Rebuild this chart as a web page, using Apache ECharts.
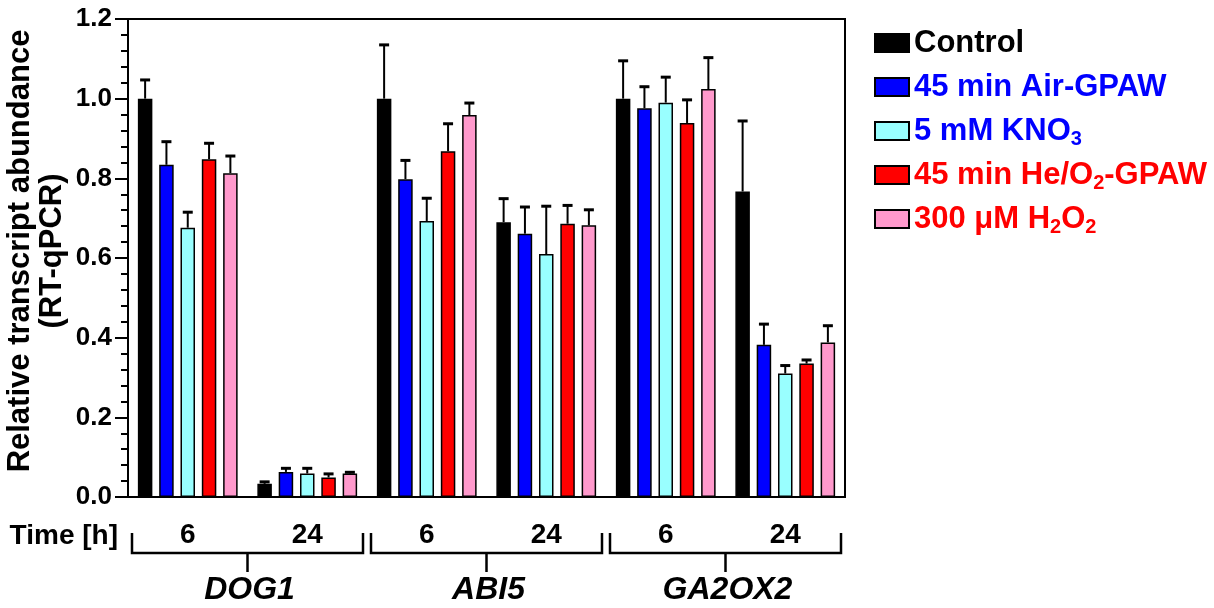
<!DOCTYPE html>
<html>
<head>
<meta charset="utf-8">
<script src="https://cdn.jsdelivr.net/npm/echarts@6/dist/echarts.min.js"></script>
<style>
html, body { margin: 0; padding: 0; background: #fff; }
#main { width: 1214px; height: 608px; }
</style>
</head>
<body>
<div id="main"></div>
<script>
// data
var genes = ['DOG1', 'ABI5', 'GA2OX2'];
var times = ['6', '24', '6', '24', '6', '24'];
var seriesNames = ['Control', '45 min Air-GPAW', '5 mM KNO3', '45 min He/O2-GPAW', '300 μM H2O2'];
var legendLabels = ['Control', '45 min Air-GPAW', '5 mM KNO{sub|3}', '45 min He/O{sub|2}-GPAW', '300 μM H{sub|2}O{sub|2}'];

var control = [1.0, 0.033, 1.0, 0.690, 1.0, 0.767];
var airGpaw = [0.834, 0.063, 0.798, 0.661, 0.976, 0.382];
var kno3 = [0.676, 0.059, 0.693, 0.610, 0.990, 0.310];
var heGpaw = [0.848, 0.049, 0.868, 0.686, 0.939, 0.335];
var h2o2 = [0.813, 0.059, 0.959, 0.682, 1.024, 0.388];

// upper error bars
var controlErr = [0.047, 0.005, 0.135, 0.059, 0.095, 0.177];
var airGpawErr = [0.058, 0.009, 0.047, 0.067, 0.054, 0.052];
var kno3Err = [0.039, 0.013, 0.057, 0.120, 0.064, 0.020];
var heGpawErr = [0.040, 0.009, 0.069, 0.046, 0.058, 0.009];
var h2o2Err = [0.043, 0.003, 0.030, 0.039, 0.079, 0.042];

var values = [control, airGpaw, kno3, heGpaw, h2o2];
var errors = [controlErr, airGpawErr, kno3Err, heGpawErr, h2o2Err];
var colors = ['#000000', '#0000ff', '#99ffff', '#ff0000', '#ff99cc'];
var textColors = ['#000000', '#0000ff', '#0000ff', '#ff0000', '#ff0000'];

var FONT = '"Liberation Sans", Arial, sans-serif';
var barWidth = 14.5;
var barGapRatio = 0.47;
var barStep = barWidth * (1 + barGapRatio);

var chart = echarts.init(document.getElementById('main'));

//误差线
function errorItem(k) {
	return function(params, api) {
		var idx = api.value(0);
		var base = api.coord([idx, api.value(1)]);
		var top = api.coord([idx, api.value(1) + api.value(2)]);
		var x = base[0] + (k - 2) * barStep;
		return {
			type: 'group',
			children: [{
					type: 'line',
					shape: { x1: x, y1: base[1], x2: x, y2: top[1] },
					style: { stroke: '#000', lineWidth: 2 }
				},
				{
					type: 'line',
					shape: { x1: x - 5, y1: top[1], x2: x + 5, y2: top[1] },
					style: { stroke: '#000', lineWidth: 3 }
				}
			]
		};
	};
}

var series = [];
seriesNames.forEach(function(name, k) {
	series.push({
		name: name,
		type: 'bar',
		barWidth: barWidth,
		barGap: (barGapRatio * 100) + '%',
		itemStyle: {
			color: colors[k],
			borderColor: '#000',
			borderWidth: 1.5
		},
		data: values[k]
	});
});
seriesNames.forEach(function(name, k) {
	series.push({
		name: 'err' + k,
		type: 'custom',
		z: 3,
		renderItem: errorItem(k),
		encode: { x: 0, y: 1 },
		data: values[k].map(function(v, i) {
			return [i, v, errors[k][i]];
		})
	});
});

chart.setOption({
	animation: false,
	grid: {
		left: 128,
		right: 369,
		top: 19,
		bottom: 111,
		outerBoundsMode: 'none',
		containLabel: false,
		show: true,
		borderColor: '#000',
		borderWidth: 2
	},
	legend: {
		orient: 'vertical',
		left: 869,
		top: 20,
		icon: 'rect',
		itemWidth: 34,
		itemHeight: 18,
		itemGap: 8,
		data: seriesNames.map(function(n, i) {
			return { name: n, textStyle: { color: textColors[i] } };
		}),
		formatter: function(name) {
			return legendLabels[seriesNames.indexOf(name)];
		},
		textStyle: {
			fontFamily: FONT,
			fontSize: 31,
			fontWeight: 'bold',
			lineHeight: 36,
			rich: {
				sub: {
					fontFamily: FONT,
					fontSize: 20,
					fontWeight: 'bold',
					lineHeight: 16,
					verticalAlign: 'bottom'
				}
			}
		}
	},
	xAxis: {
		type: 'category',
		data: times,
		axisLine: { lineStyle: { color: '#000', width: 2 } },
		axisTick: { alignWithLabel: true, length: 14, lineStyle: { color: '#000', width: 2 } },
		axisLabel: {
			fontFamily: FONT,
			fontSize: 28,
			fontWeight: 'bold',
			color: '#000',
			margin: 24
		}
	},
	yAxis: {
		type: 'value',
		min: 0,
		max: 1.2,
		interval: 0.2,
		name: 'Relative transcript abundance\n(RT-qPCR)',
		nameLocation: 'middle',
		nameMoveOverlap: false,
		nameGap: 60,
		nameTextStyle: {
			fontFamily: FONT,
			fontSize: 31,
			fontWeight: 'bold',
			lineHeight: 32,
			color: '#000',
			padding: [0, 0, 0, 14]
		},
		axisLine: { show: true, lineStyle: { color: '#000', width: 2 } },
		axisTick: { show: true, length: 13, lineStyle: { color: '#000', width: 2 } },
		minorTick: { show: true, splitNumber: 5, length: 7, lineStyle: { color: '#000', width: 2 } },
		splitLine: { show: false },
		axisLabel: {
			fontFamily: FONT,
			fontSize: 26,
			fontWeight: 'bold',
			color: '#000',
			margin: 16,
			formatter: function(v) {
				return v.toFixed(1);
			}
		}
	},
	series: series
});

//基因分组括号
function drawBrackets() {
	var els = [];
	genes.forEach(function(g, k) {
		var x0 = chart.convertToPixel({ xAxisIndex: 0 }, 2 * k);
		var x1 = chart.convertToPixel({ xAxisIndex: 0 }, 2 * k + 1);
		var half = (x1 - x0) / 2;
		var left = x0 - half + 4;
		var right = x1 + half - 4;
		var mid = (x0 + x1) / 2;
		els.push({
			type: 'polyline',
			shape: { points: [[left, 533], [left, 553], [right, 553], [right, 533]] },
			style: { stroke: '#000', lineWidth: 2.5, fill: null }
		});
		els.push({
			type: 'line',
			shape: { x1: mid, y1: 553, x2: mid, y2: 572 },
			style: { stroke: '#000', lineWidth: 2.5 }
		});
		els.push({
			type: 'text',
			x: mid + 2,
			y: 590,
			style: {
				text: g,
				fontFamily: FONT,
				fontSize: 32,
				fontWeight: 'bold',
				fontStyle: 'italic',
				fill: '#000',
				align: 'center',
				verticalAlign: 'middle'
			}
		});
	});
	els.push({
		type: 'text',
		x: 118,
		y: 536,
		style: {
			text: 'Time [h]',
			fontFamily: FONT,
			fontSize: 28,
			fontWeight: 'bold',
			fill: '#000',
			align: 'right',
			verticalAlign: 'middle'
		}
	});
	chart.setOption({ graphic: els });
}
drawBrackets();
</script>
</body>
</html>
